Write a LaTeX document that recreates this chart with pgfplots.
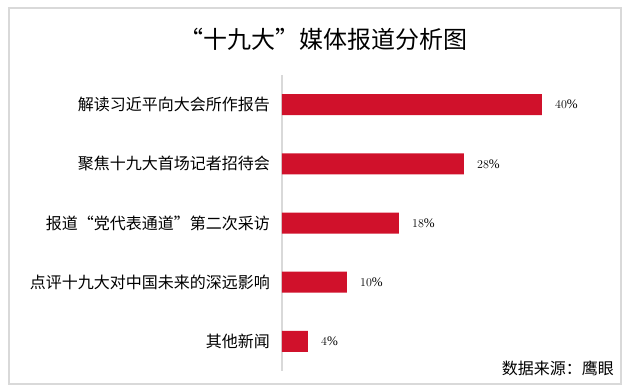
\documentclass[border=0pt]{standalone}
\usepackage{fontspec}
\setmainfont{Noto Sans CJK SC}
\newfontfamily\numfont{Liberation Serif}
\usepackage{pgfplots}
\pgfplotsset{compat=1.18}
\definecolor{barred}{HTML}{D0112B}
\definecolor{frame}{HTML}{D9D9D9}
\begin{document}
\begin{tikzpicture}[x=1pt,y=1pt]
\path[use as bounding box] (0,0) rectangle (627,391);
\draw[frame, line width=2.5pt] (9,7) rectangle (621,383);
\node[font=\fontsize{24}{24}\selectfont] at (323,352) {“十九大”媒体报道分析图};
\node[font=\fontsize{16}{16}\selectfont, anchor=east, inner sep=0pt] at (614,23) {数据来源：鹰眼};
\begin{axis}[
  at={(282pt,20pt)}, anchor=south west,
  scale only axis, width=325pt, height=296pt,
  xmin=0, xmax=50, ymin=-0.5, ymax=4.5,
  y dir=reverse,
  axis x line=none, axis y line=left,
  y axis line style={-, draw=frame, line width=2pt},
  ytick={0,1,2,3,4},
  yticklabels={解读习近平向大会所作报告,聚焦十九大首场记者招待会,报道“党代表通道”第二次采访,点评十九大对中国未来的深远影响,其他新闻},
  major tick length=0pt, ytick style={draw=none},
  yticklabel style={font=\fontsize{16}{16}\selectfont, inner sep=0pt, anchor=east, xshift=-12pt},
  xbar, bar width=21pt, bar shift=0pt,
  point meta=x,
  nodes near coords={\pgfmathprintnumber{\pgfplotspointmeta}\%},
  nodes near coords style={anchor=west, inner sep=0pt, xshift=13pt, font=\numfont\fontsize{13}{13}\selectfont, text=black},
  clip=false,
]
\addplot[fill=barred, draw=none] coordinates {(40,0) (28,1) (18,2) (10,3) (4,4)};
\end{axis}
\end{tikzpicture}
\end{document}
